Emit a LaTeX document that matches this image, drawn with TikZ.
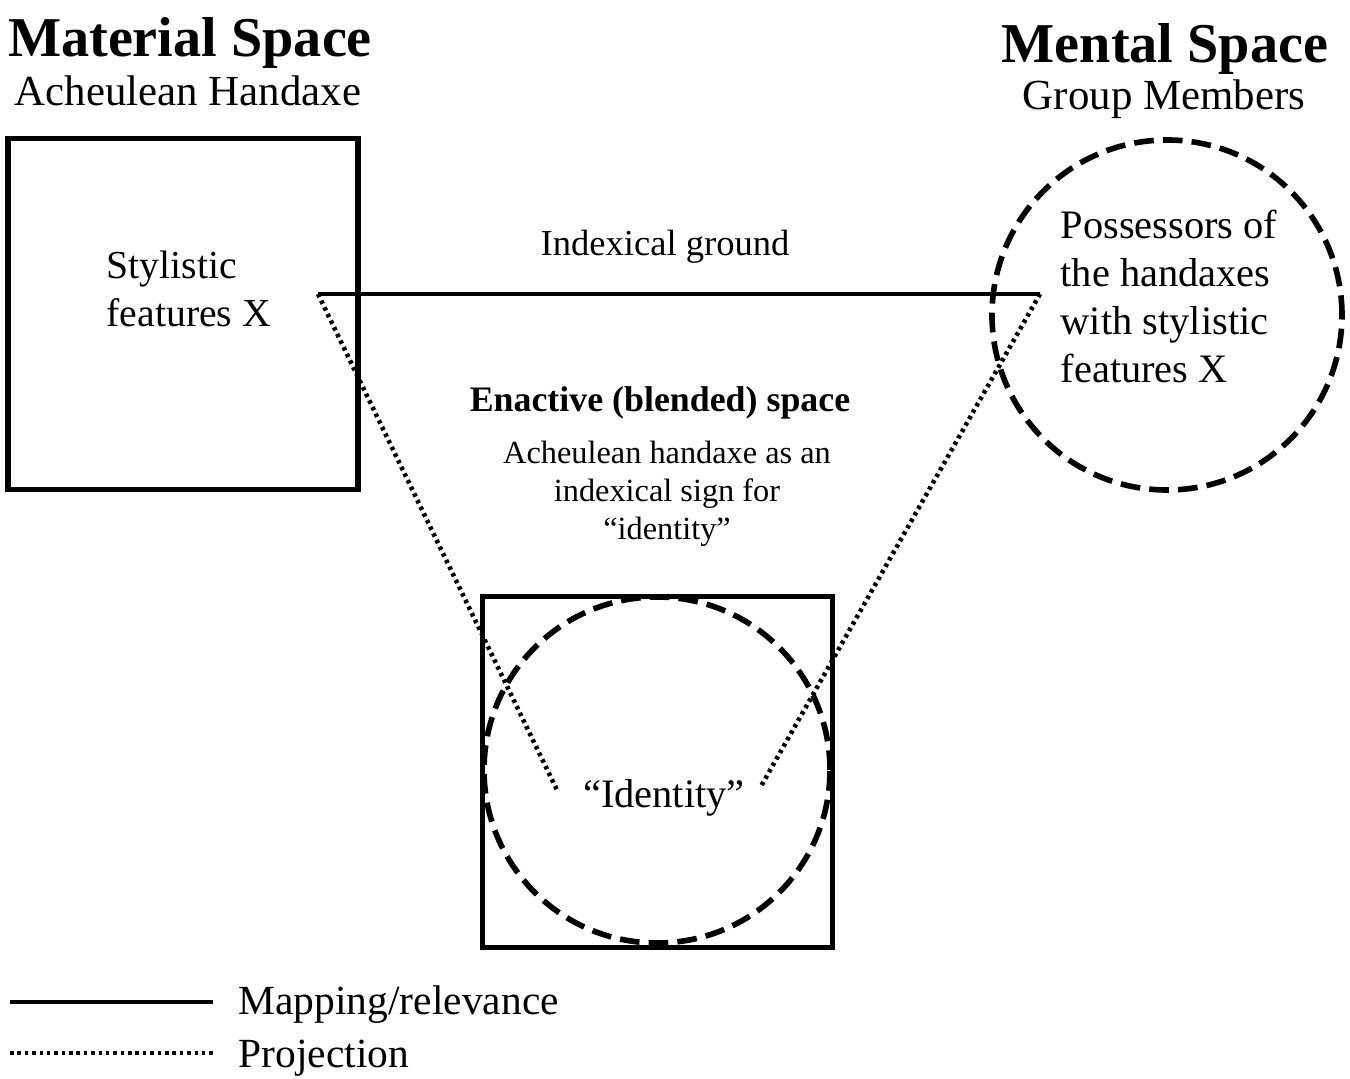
\documentclass[tikz,border=0pt]{standalone}
\usepackage{fontspec}
\setmainfont{Liberation Serif}
\usetikzlibrary{positioning}

\begin{document}
\begin{tikzpicture}[
  every node/.style={inner sep=0pt},
  spacebox/.style={draw, line width=1.6pt, minimum width=3.5cm, minimum height=3.51cm},
  spacering/.style={draw, circle, line width=1.6pt, dash pattern=on 5.6pt off 2.6pt},
  mapline/.style={line width=1.2pt},
  projline/.style={line width=1.3pt, dash pattern=on 1pt off 1.1pt}
]
  \useasboundingbox (0,0) rectangle (13.5,10.79);

  % the two input spaces
  \node[font=\fontsize{16}{18}\selectfont\bfseries, anchor=base] (mattitle) at (1.90,10.22) {Material Space};
  \node[font=\fontsize{12.2}{14}\selectfont, anchor=base] (matsub) at (1.88,9.73) {Acheulean Handaxe};
  \node[spacebox] (matbox) at (1.83,7.65) {};
  \node[font=\fontsize{11.3}{13.6}\selectfont, align=left, anchor=north west] (feat) at (1.06,8.29)
       {Stylistic\\features X};

  \node[font=\fontsize{16}{18}\selectfont\bfseries, anchor=base] (mentitle) at (11.65,10.16) {Mental Space};
  \node[font=\fontsize{12.2}{14}\selectfont, anchor=base] (mensub) at (11.64,9.69) {Group Members};
  \node[spacering, minimum size=3.5cm] (menring) at (11.67,7.64) {};
  \node[font=\fontsize{11.5}{13.7}\selectfont, align=left, anchor=north west] (poss) at (10.60,8.70)
       {Possessors of\\the handaxes\\with stylistic\\features X};

  % blended space
  \node[font=\fontsize{10.2}{12}\selectfont\bfseries, anchor=base] (blendtitle) at (6.60,6.67)
       {Enactive (blended) space};
  \node[font=\fontsize{9.2}{10.9}\selectfont, align=center, anchor=north] (blendsub) at (6.67,6.39)
       {Acheulean handaxe as an\\indexical sign for\\``identity''};
  \node[spacebox] (blendbox) at (6.575,3.07) {};
  \node[spacering, minimum size=3.46cm] (blendring) at (6.57,3.09) {};
  \node[font=\fontsize{11.5}{13}\selectfont, anchor=base] (ident) at (6.64,2.71) {``Identity''};

  % mapping and projections
  \coordinate (featL) at (3.18,7.85);
  \coordinate (featR) at (10.40,7.85);
  \coordinate (projL) at (5.57,2.89);
  \coordinate (projR) at (7.60,2.91);
  \draw[mapline] (featL) -- (featR);
  \node[font=\fontsize{10.4}{12}\selectfont, anchor=base] (ground) at (6.65,8.23) {Indexical ground};
  \draw[projline] (featL) -- (projL);
  \draw[projline] (featR) -- (projR);

  % legend
  \coordinate (keyA1) at (0.10,0.77);
  \coordinate (keyA2) at (2.13,0.77);
  \coordinate (keyB1) at (0.10,0.26);
  \coordinate (keyB2) at (2.13,0.26);
  \draw[mapline] (keyA1) -- (keyA2);
  \draw[projline] (keyB1) -- (keyB2);
  \node[font=\fontsize{11.8}{14}\selectfont, anchor=base west] (keymap) at (2.38,0.64) {Mapping/relevance};
  \node[font=\fontsize{11.8}{14}\selectfont, anchor=base west] (keyproj) at (2.38,0.11) {Projection};
\end{tikzpicture}
\end{document}
